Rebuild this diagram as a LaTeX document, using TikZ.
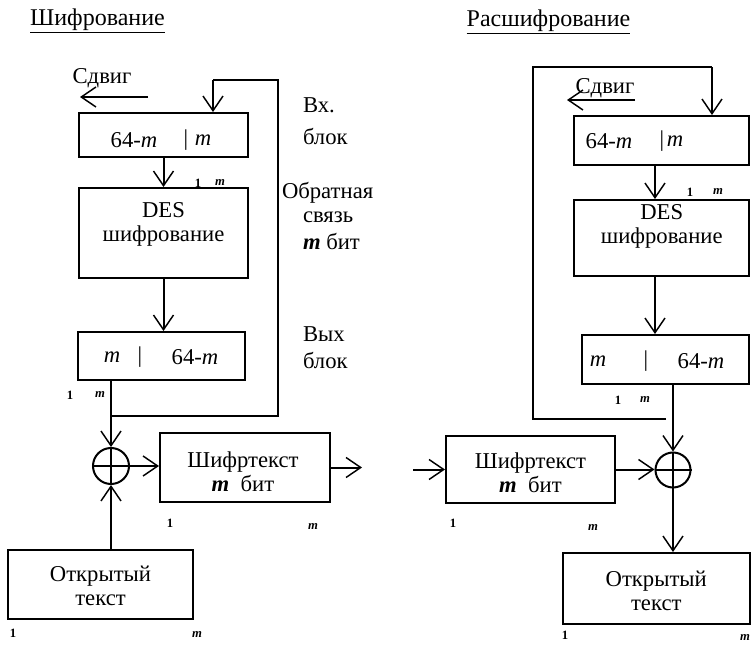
\documentclass[tikz,border=0pt]{standalone}
\usepackage{fontspec}
\setmainfont{Liberation Serif}
\usetikzlibrary{arrows.meta,calc}
\newcommand{\mb}{\textbf{\textit{m}}}
\begin{document}
\begin{tikzpicture}[x=0.75pt,y=-0.75pt,
  line width=1.5pt,
  blk/.style={draw,line width=1.5pt,inner sep=0pt,rectangle},
  arr/.style={-{Straight Barb[length=11pt,width=15pt,line width=1.1pt]}},
  txt/.style={font=\fontsize{17}{18}\selectfont,inner sep=0pt,align=center},
  lbl/.style={font=\fontsize{17}{18}\selectfont,inner sep=0pt,anchor=west},
  ttl/.style={font=\fontsize{18}{20}\selectfont,inner sep=0pt},
  sml/.style={font=\fontsize{9.5}{10}\selectfont\bfseries,inner sep=0pt},
  xo/.style={draw,circle,minimum size=27pt,inner sep=0pt,line width=1.5pt}]
\useasboundingbox (0,0) rectangle (751,653);

% ---------- titles ----------
\node[ttl] (t1) at (97.5,21) {\underline{Шифрование}};
\node[ttl] (t2) at (548.5,22) {\underline{Расшифрование}};

% ---------- left: encryption ----------
\node[blk,minimum width=126.75pt,minimum height=33pt] (inL) at (163.5,135) {};
\node[blk,minimum width=126.75pt,minimum height=67.5pt] (desL) at (163.5,233) {};
\node[blk,minimum width=125.25pt,minimum height=36pt] (outL) at (161.5,356) {};
\node[blk,minimum width=127.5pt,minimum height=51.75pt] (ctL) at (245,467.5) {};
\node[blk,minimum width=138.75pt,minimum height=51.75pt] (ptL) at (100.5,584.5) {};
\node[xo] (xorL) at (111,466) {};
\draw (xorL.north) -- (xorL.south) (xorL.west) -- (xorL.east);

\node[txt] (inLa) at (134,140) {64-\textit{m}};
\node[txt] (inLb) at (186,140) {|};
\node[txt] (inLc) at (203,140) {\textit{m}};
\node[txt] (desLt) at (163.5,224) {DES\\шифрование};
\node[txt] (outLa) at (112,357) {\textit{m}};
\node[txt] (outLb) at (140,357) {|};
\node[txt] (outLc) at (195,357) {64-\textit{m}};
\node[txt] (ctLt) at (243,472) {Шифртекст\\\mb\ \ бит};
\node[txt] (ptLt) at (100.5,586) {Открытый\\текст};

\node[txt] (shLt) at (102,78) {Сдвиг};
\coordinate (shL1) at (148,97);
\coordinate (shL2) at (80,97);
\draw[arr] (shL1) -- (shL2);

\node[sml] (sL1) at (198,183) {1};
\node[sml] (sL2) at (220,183) {\mb};
\node[sml] (sL3) at (70,395) {1};
\node[sml] (sL4) at (100,395) {\mb};
\node[sml] (sL5) at (170,523) {1};
\node[sml] (sL6) at (313,527) {\mb};
\node[sml] (sL7) at (13,633) {1};
\node[sml] (sL8) at (197,635) {\mb};

\node[lbl] (lb1) at (302,105) {Вх.};
\node[lbl] (lb2) at (302,136) {блок};
\node[lbl] (lb3) at (281,193) {Обратная};
\node[lbl] (lb4) at (302,217) {связь};
\node[lbl] (lb5) at (302,241) {\mb\ бит};
\node[lbl] (lb6) at (302,334) {Вых};
\node[lbl] (lb7) at (302,360) {блок};

\coordinate (fbL1) at (111,416);
\coordinate (fbL2) at (278,416);
\coordinate (fbL3) at (278,80);
\coordinate (fbL4) at (213,80);
\coordinate (endL) at (362,467.5);

\draw[arr] (inL.south) -- (desL.north);
\draw[arr] (desL.south) -- (desL.south |- outL.north);
\draw[arr] (outL.south -| xorL) -- (xorL.north);
\draw (fbL1) -- (fbL2) -- (fbL3) -- (fbL4);
\draw[arr] (fbL4) -- (fbL4 |- inL.north);
\draw[arr] (xorL.south |- ptL.north) -- (xorL.south);
\draw[arr] (xorL.east) -- (xorL.east -| ctL.west);
\draw[arr] (ctL.east) -- (endL);

% ---------- right: decryption ----------
\node[blk,minimum width=131.6pt,minimum height=36.75pt] (inR) at (661.75,140.5) {};
\node[blk,minimum width=131.6pt,minimum height=57pt] (desR) at (661.75,238) {};
\node[blk,minimum width=125.6pt,minimum height=36.75pt] (outR) at (665.75,359.5) {};
\node[blk,minimum width=126.75pt,minimum height=50.25pt] (ctR) at (530.5,469.5) {};
\node[blk,minimum width=139.9pt,minimum height=53.25pt] (ptR) at (656.25,588.5) {};
\node[xo,minimum size=26.25pt] (xorR) at (673,470) {};
\draw (xorR.north) -- (xorR.south) (xorR.west) -- (xorR.east);

\node[txt] (inRa) at (609,141) {64-\textit{m}};
\node[txt] (inRb) at (662,141) {|};
\node[txt] (inRc) at (675,141) {\textit{m}};
\node[txt] (desRt) at (661.75,226) {DES\\шифрование};
\node[txt] (outRa) at (598,361) {\textit{m}};
\node[txt] (outRb) at (646,361) {|};
\node[txt] (outRc) at (701,361) {64-\textit{m}};
\node[txt] (ctRt) at (530.5,473) {Шифртекст\\\mb\ \ бит};
\node[txt] (ptRt) at (656.25,591) {Открытый\\текст};

\node[txt] (shRt) at (605,88) {Сдвиг};
\coordinate (shR1) at (635,100);
\coordinate (shR2) at (567,100);
\draw[arr] (shR1) -- (shR2);

\node[sml] (sR1) at (690,192) {1};
\node[sml] (sR2) at (718,192) {\mb};
\node[sml] (sR3) at (618,400) {1};
\node[sml] (sR4) at (645,400) {\mb};
\node[sml] (sR5) at (453,523) {1};
\node[sml] (sR6) at (593,528) {\mb};
\node[sml] (sR7) at (565,635) {1};
\node[sml] (sR8) at (745,638) {\mb};

\coordinate (aR1) at (655,0);
\coordinate (fbR1) at (666,419);
\coordinate (fbR2) at (533,419);
\coordinate (fbR3) at (533,67);
\coordinate (fbR4) at (712,67);
\coordinate (stR) at (413,469.5);

\draw[arr] (inR.south -| aR1) -- (desR.north -| aR1);
\draw[arr] (desR.south -| aR1) -- (outR.north -| aR1);
\draw[arr] (outR.south -| xorR) -- (xorR.north);
\draw (fbR1) -- (fbR2) -- (fbR3) -- (fbR4);
\draw[arr] (fbR4) -- (fbR4 |- inR.north);
\draw[arr] (stR) -- (ctR.west);
\draw[arr] (ctR.east) -- (ctR.east -| xorR.west);
\draw[arr] (xorR.south) -- (xorR.south |- ptR.north);
\end{tikzpicture}
\end{document}
